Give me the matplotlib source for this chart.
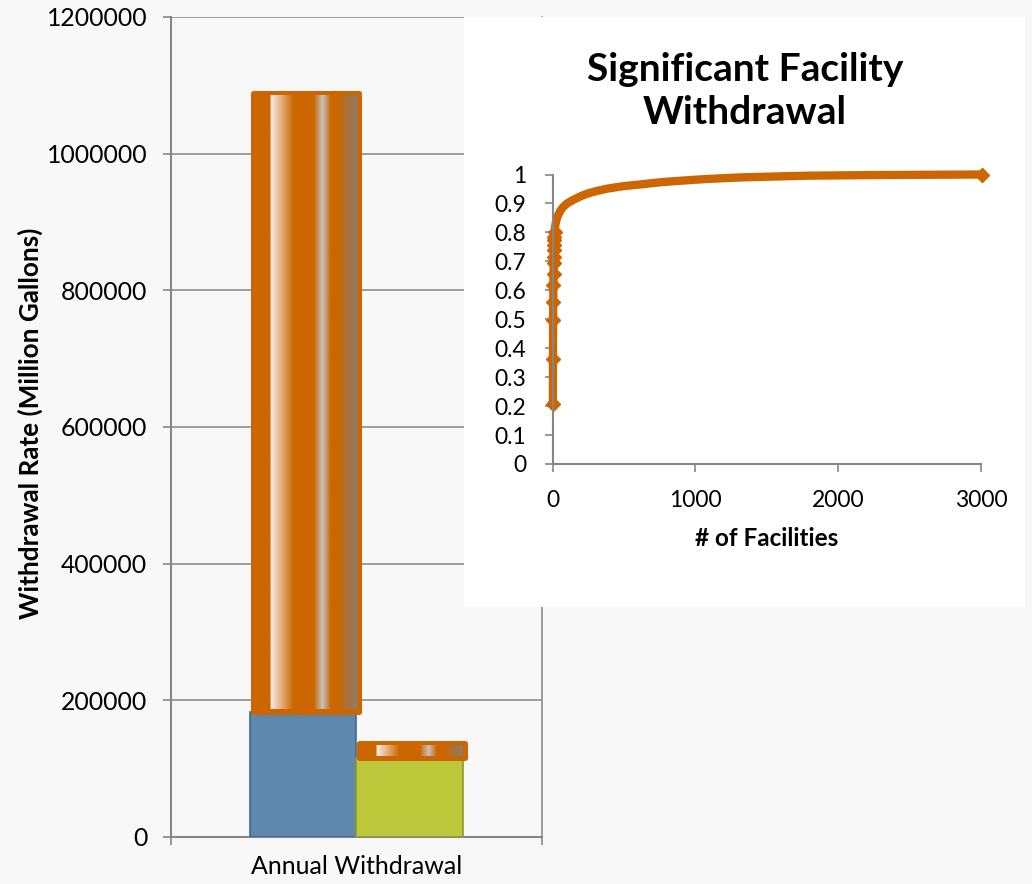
import numpy as np
import matplotlib
matplotlib.use('Agg')
import matplotlib.pyplot as plt
from matplotlib.colors import LinearSegmentedColormap
from matplotlib.patches import Rectangle

plt.rcParams['font.family'] = ['Lato', 'DejaVu Sans']

# annual withdrawal bars (million gallons)
category = 'Annual Withdrawal'
base_values = [183000, 115600]
cap_values = [905800, 22000]
base_colors = ['#5f88ae', '#bcc83a']
base_edges = ['#45698e', '#8e9a2c']
y_ticks = [0, 200000, 400000, 600000, 800000, 1000000, 1200000]

# cumulative share of withdrawal vs number of facilities
facilities = [1, 2, 3, 4, 5, 6, 7, 8, 9, 10, 11, 12, 14, 16, 20, 30, 50, 70, 100,
              150, 200, 250, 300, 380, 500, 620, 750, 850, 1000, 1100, 1320, 1550,
              1800, 2250, 2600, 3005]
cumulative_share = [0.208, 0.364, 0.497, 0.56, 0.618, 0.658, 0.693, 0.716, 0.739,
                    0.756, 0.773, 0.785, 0.80, 0.815, 0.83, 0.85, 0.872, 0.886, 0.90,
                    0.914, 0.926, 0.935, 0.942, 0.951, 0.96, 0.966, 0.973, 0.977,
                    0.982, 0.985, 0.990, 0.993, 0.996, 0.998, 0.999, 1.0]

orange = '#cc6600'
grey = '#868686'
W, H = 1032, 884

fig = plt.figure(figsize=(W / 100, H / 100), dpi=100)
fig.patch.set_facecolor('#f8f8f8')

ax = fig.add_axes([171 / W, 47 / H, 371 / W, 820 / H])
ax.patch.set_visible(False)
ax.set_xlim(-0.5, 0.5)
ax.set_ylim(0, 1200000)
ax.set_autoscale_on(False)

# pixel -> data conversion for the glass effect on the caps
x0, y0 = ax.transData.transform((0, 0))
x1, y1 = ax.transData.transform((1, 1))
px_x = 1 / (x1 - x0)
px_y = 1 / (y1 - y0)

glass = LinearSegmentedColormap.from_list('glass', [
    (0.0, orange), (0.165, orange), (0.17, '#f6efe8'), (0.39, orange),
    (0.585, orange), (0.67, '#c6c3c0'), (0.75, orange), (0.816, orange),
    (1.0, '#8b7d70')])
ramp = np.linspace(0, 1, 256)[None, :]

width = 0.287
offsets = [-width / 2, width / 2]
edge = 2.5
for xc, base, cap, fc, ec in zip(offsets, base_values, cap_values, base_colors, base_edges):
    ax.bar(xc, base, width, color=fc, edgecolor=ec, linewidth=1.2, zorder=3)
    xs = xc + edge * px_x
    ax.bar(xs, cap, width, bottom=base, color=orange, edgecolor=orange,
           linewidth=3.6, joinstyle='round', zorder=4)
    left = xs - width / 2
    right = xs + width / 2 - edge * px_x
    ax.imshow(ramp, cmap=glass, aspect='auto', interpolation='bilinear',
              extent=(left, right, base + edge * px_y, base + cap - edge * px_y),
              zorder=5)

ax.set_yticks(y_ticks, [str(v) for v in y_ticks])
ax.set_xticks([0], [category])
ax.set_xticks([-0.5, 0.5], minor=True)
ax.tick_params(axis='y', labelsize=17.8, length=6, width=1.2, color=grey, pad=11)
ax.tick_params(axis='x', which='major', labelsize=18, length=0, pad=13)
ax.tick_params(axis='x', which='minor', length=6, width=1.2, color=grey)
ax.yaxis.grid(True, color=grey, linewidth=1.1)
ax.set_axisbelow(True)
ax.spines['top'].set_visible(False)
ax.spines['right'].set_color(grey)
ax.spines['right'].set_linewidth(1.1)
for s in ('left', 'bottom'):
    ax.spines[s].set_color(grey)
    ax.spines[s].set_linewidth(1.5)

fig.text(30 / W, 1 - 423 / H, 'Withdrawal Rate (Million Gallons)', rotation=90,
         ha='center', va='center', fontsize=18.8, fontweight='bold')

# inset chart on a white panel
panel = Rectangle((464 / W, 1 - 607 / H), 561 / W, 590 / H, transform=fig.transFigure,
                  facecolor='white', edgecolor='none', zorder=1)
fig.add_artist(panel)

ins = fig.add_axes([552.7 / W, 1 - 464 / H, 428.3 / W, 289.5 / H])
ins.set_zorder(2)
ins.patch.set_visible(False)
ins.plot(facilities, cumulative_share, color=orange, linewidth=6, marker='D',
         markersize=7, markevery=list(range(13)) + [len(facilities) - 1],
         solid_joinstyle='round', clip_on=False)
ins.set_xlim(0, 3000)
ins.set_ylim(0, 1)
ins.set_xticks([0, 1000, 2000, 3000])
share_ticks = [i / 10 for i in range(11)]
ins.set_yticks(share_ticks, ['0' if t == 0 else '1' if t == 1 else f'{t:.1f}' for t in share_ticks])
ins.tick_params(labelsize=16.5, length=6, width=1.2, color=grey)
ins.tick_params(axis='y', pad=13)
ins.tick_params(axis='x', pad=13)
ins.spines['top'].set_visible(False)
ins.spines['right'].set_visible(False)
for s in ('left', 'bottom'):
    ins.spines[s].set_color(grey)
    ins.spines[s].set_linewidth(1.5)

fig.text(745 / W, 1 - 91 / H, 'Significant Facility\nWithdrawal', ha='center',
         va='center', fontsize=28, fontweight='bold', linespacing=1.3)
fig.text(767 / W, 1 - 538 / H, '# of Facilities', ha='center', va='center',
         fontsize=17.5, fontweight='bold')

fig.savefig('out.png', dpi=100, facecolor=fig.get_facecolor())
